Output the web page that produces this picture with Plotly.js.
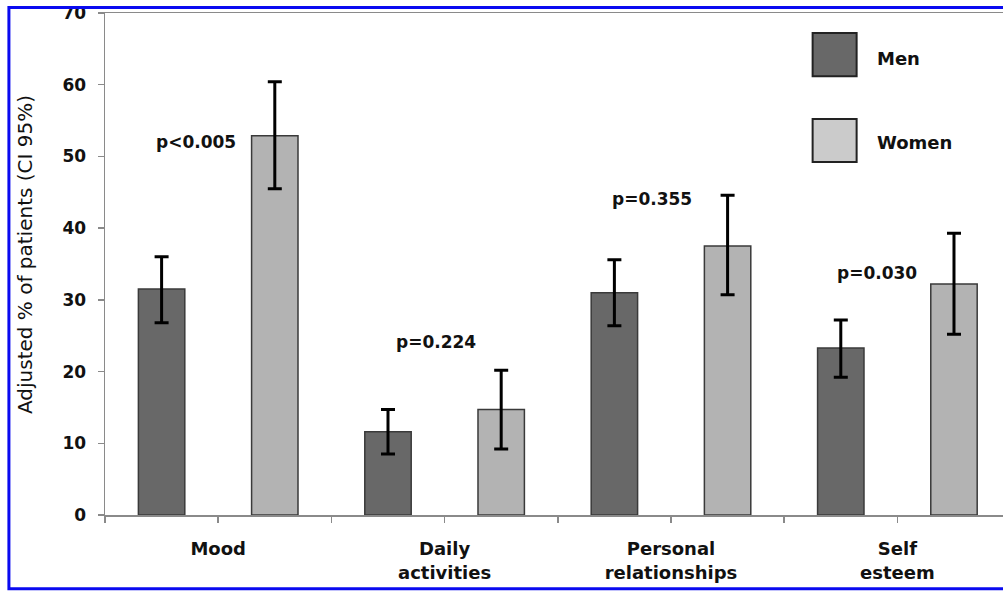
<!DOCTYPE html>
<html>
<head>
<meta charset="utf-8">
<script src="https://cdn.plot.ly/plotly-3.0.1.min.js"></script>
<style>
  html, body { margin: 0; padding: 0; background: #ffffff; }
  #chart { width: 1003px; height: 591px; }
</style>
</head>
<body>
<div id="chart"></div>
<script>
// ---- data ----
const categories = ["Mood", "Daily<br>activities", "Personal<br>relationships", "Self<br>esteem"];
const seriesNames = ["Men", "Women"];
const menValues = [31.5, 11.6, 31.0, 23.3];
const menUpper = [36.0, 14.7, 35.6, 27.2];
const menLower = [26.8, 8.5, 26.4, 19.2];
const womenValues = [52.9, 14.7, 37.5, 32.2];
const womenUpper = [60.4, 20.2, 44.6, 39.3];
const womenLower = [45.5, 9.2, 30.7, 25.2];
const pValues = ["p<0.005", "p=0.224", "p=0.355", "p=0.030"];
const yTicks = [0, 10, 20, 30, 40, 50, 60, 70];

// ---- styles ----
const FONT = "DejaVu Sans, Verdana, sans-serif";
const menColor = "#686868";
const womenColor = "#b3b3b3";
const womenLegendColor = "#cbcbcb";
const outline = "#3a3a3a";
const axisColor = "#8a8a8a";

// each category occupies two slots on a numeric axis: men slot then women slot
const menX = categories.map((c, i) => 2 * i + 0.5);
const womenX = categories.map((c, i) => 2 * i + 1.5);

function errArrays(vals, up, lo) {
  return {
    plus: vals.map((v, i) => up[i] - v),
    minus: vals.map((v, i) => v - lo[i])
  };
}
const menErr = errArrays(menValues, menUpper, menLower);
const womenErr = errArrays(womenValues, womenUpper, womenLower);

const barWidth = 0.41;
const traces = [
  {
    type: "bar", name: seriesNames[0], x: menX, y: menValues, width: barWidth,
    marker: { color: menColor, line: { color: outline, width: 1.5 } },
    error_y: { type: "data", symmetric: false, array: menErr.plus, arrayminus: menErr.minus,
               color: "#000000", thickness: 3, width: 7 },
    showlegend: false, hoverinfo: "x+y"
  },
  {
    type: "bar", name: seriesNames[1], x: womenX, y: womenValues, width: barWidth,
    marker: { color: womenColor, line: { color: outline, width: 1.5 } },
    error_y: { type: "data", symmetric: false, array: womenErr.plus, arrayminus: womenErr.minus,
               color: "#000000", thickness: 3, width: 7 },
    showlegend: false, hoverinfo: "x+y"
  }
];

// category labels sit at the boundary between the two slots of each category
const xTickVals = [];
const xTickText = [];
for (let k = 0; k <= 8; k++) {
  xTickVals.push(k);
  xTickText.push(k % 2 === 1 ? categories[(k - 1) / 2] : "");
}

// p-value annotations (positions in data units)
const pPos = [[0.80, 52.0], [2.92, 24.1], [4.83, 44.1], [6.82, 33.7]];
const annotations = pValues.map((t, i) => ({
  text: "<b>" + t + "</b>", x: pPos[i][0], y: pPos[i][1], xref: "x", yref: "y",
  showarrow: false, font: { family: FONT, size: 17, color: "#111111" }
}));

// legend text
annotations.push({ text: "<b>" + seriesNames[0] + "</b>", x: 0.857, y: 0.910, xref: "paper", yref: "paper",
  xanchor: "left", yanchor: "middle", showarrow: false, font: { family: FONT, size: 18, color: "#111111" } });
annotations.push({ text: "<b>" + seriesNames[1] + "</b>", x: 0.857, y: 0.742, xref: "paper", yref: "paper",
  xanchor: "left", yanchor: "middle", showarrow: false, font: { family: FONT, size: 18, color: "#111111" } });

// y axis title as rotated annotation
annotations.push({ text: "Adjusted % of patients (CI 95%)", x: -0.089, y: 0.518, xref: "paper", yref: "paper",
  xanchor: "center", yanchor: "middle", textangle: -90, showarrow: false,
  font: { family: FONT, size: 20, color: "#111111" } });

const shapes = [
  // legend swatches
  { type: "rect", xref: "paper", yref: "paper", x0: 0.788, x1: 0.837, y0: 0.874, y1: 0.960,
    fillcolor: menColor, line: { color: "#222222", width: 2 } },
  { type: "rect", xref: "paper", yref: "paper", x0: 0.788, x1: 0.837, y0: 0.703, y1: 0.789,
    fillcolor: womenLegendColor, line: { color: "#222222", width: 2 } },
  // blue frame around the figure
  { type: "rect", xref: "paper", yref: "paper", x0: -0.107, x1: 1.02, y0: -0.147, y1: 1.011,
    fillcolor: "rgba(0,0,0,0)", line: { color: "#0a0af0", width: 3 }, layer: "above" }
];

const layout = {
  width: 1003, height: 591,
  margin: { l: 105, r: 0, t: 13, b: 76, pad: 0 },
  paper_bgcolor: "#ffffff", plot_bgcolor: "#ffffff",
  barmode: "overlay",
  showlegend: false,
  font: { family: FONT, color: "#111111" },
  xaxis: {
    range: [0, 7.933], fixedrange: true,
    tickmode: "array", tickvals: xTickVals, ticktext: xTickText,
    ticks: "outside", ticklen: 6, tickwidth: 1.5, tickcolor: axisColor,
    ticklabelstandoff: 11,
    showline: true, linecolor: axisColor, linewidth: 1.5, mirror: true,
    showgrid: false, zeroline: false,
    tickfont: { family: FONT, size: 18, color: "#111111", weight: "bold" }
  },
  yaxis: {
    range: [0, 70], fixedrange: true,
    tickmode: "array", tickvals: yTicks, ticktext: yTicks.map(String),
    ticks: "outside", ticklen: 6, tickwidth: 1.5, tickcolor: axisColor,
    ticklabelstandoff: 8,
    showline: true, linecolor: axisColor, linewidth: 1.5,
    showgrid: false, zeroline: false,
    tickfont: { family: FONT, size: 17, color: "#111111", weight: "bold" }
  },
  annotations: annotations,
  shapes: shapes
};

Plotly.newPlot("chart", traces, layout, { displayModeBar: false, staticPlot: true });
</script>
</body>
</html>
